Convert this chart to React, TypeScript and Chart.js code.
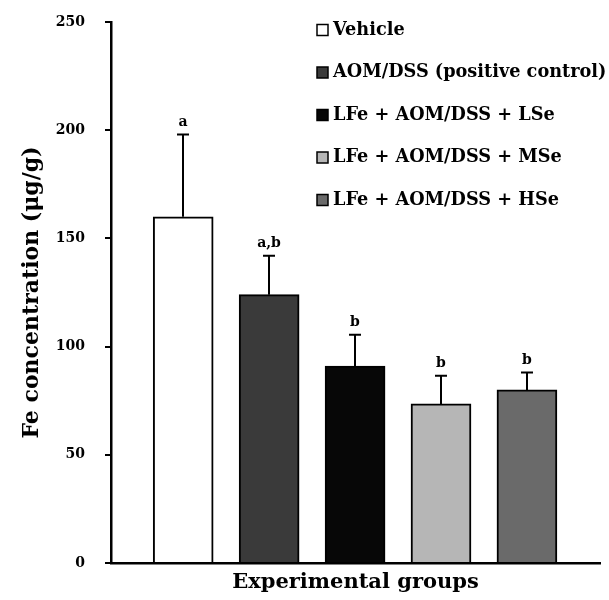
import React, { useEffect, useRef } from "react";
import { Chart, registerables } from "chart.js";

Chart.register(...registerables);

// ---- data ----
const groups = [
  "Vehicle",
  "AOM/DSS (positive control)",
  "LFe + AOM/DSS + LSe",
  "LFe + AOM/DSS + MSe",
  "LFe + AOM/DSS + HSe",
];
const xPositions = [1, 2, 3, 4, 5];
const means = [160, 124, 91, 73.5, 80];
const errors = [38, 18, 14.5, 13, 8];
const letters = ["a", "a,b", "b", "b", "b"];
const yTickValues = [0, 50, 100, 150, 200, 250];

// ---- styles ----
const fills = ["#ffffff", "#3a3a3a", "#070707", "#b6b6b6", "#6a6a6a"];
const FONT = "'DejaVu Serif', 'Liberation Serif', serif";

const annotatePlugin = {
  id: "annotate",
  afterDatasetsDraw(chart: any) {
    const { ctx, scales } = chart;
    const x = scales.x;
    const y = scales.y;
    ctx.save();
    ctx.strokeStyle = "#000";
    ctx.fillStyle = "#000";
    ctx.lineWidth = 2;
    means.forEach((m, i) => {
      const px = Math.round(x.getPixelForValue(xPositions[i]));
      const yb = y.getPixelForValue(m);
      const yt = y.getPixelForValue(m + errors[i]);
      ctx.beginPath();
      ctx.moveTo(px, yb);
      ctx.lineTo(px, yt);
      ctx.moveTo(px - 6, yt);
      ctx.lineTo(px + 6, yt);
      ctx.stroke();
      ctx.font = `bold 14px ${FONT}`;
      ctx.textAlign = "center";
      ctx.textBaseline = "bottom";
      ctx.fillText(letters[i], px, yt - 5);
    });

    // legend
    const lx = 317;
    const ly0 = 30;
    const step = 42.5;
    ctx.font = `bold 17.7px ${FONT}`;
    ctx.textAlign = "left";
    ctx.textBaseline = "middle";
    groups.forEach((g, i) => {
      const cy = ly0 + i * step;
      ctx.fillStyle = fills[i];
      ctx.fillRect(lx, cy - 5.5, 11, 11);
      ctx.lineWidth = 1.5;
      ctx.strokeStyle = "#000";
      ctx.strokeRect(lx, cy - 5.5, 11, 11);
      ctx.fillStyle = "#000";
      ctx.fillText(g, lx + 16, cy);
    });
    ctx.restore();
  },
};

export default function App() {
  const canvasRef = useRef<HTMLCanvasElement | null>(null);

  useEffect(() => {
    const canvas = canvasRef.current;
    if (!canvas) return;
    const chart = new Chart(canvas, {
      type: "bar",
      data: {
        datasets: [
          {
            label: "Fe concentration",
            data: means.map((m, i) => ({ x: xPositions[i], y: m })),
            backgroundColor: fills,
            borderColor: "#000",
            borderWidth: 2,
            borderSkipped: "bottom",
            barThickness: 60,
          },
        ],
      },
      options: {
        animation: false,
        responsive: false,
        layout: { padding: { top: 22, right: 9, left: 0, bottom: 0 } },
        plugins: {
          legend: { display: false },
          tooltip: { enabled: false },
        },
        scales: {
          x: {
            type: "linear",
            offset: false,
            min: 0.16,
            max: 5.85,
            ticks: { display: false },
            grid: { display: false, offset: false },
            border: { display: true, color: "#000", width: 2.5 },
            title: {
              display: true,
              text: "Experimental groups",
              color: "#000",
              font: { family: FONT, size: 21, weight: "bold" },
              padding: { top: 0, bottom: 5 },
            },
            afterFit: (scale: any) => {
              scale.height = 37;
            },
          },
          y: {
            min: 0,
            max: 250,
            afterBuildTicks: (scale: any) => {
              scale.ticks = yTickValues.map((v) => ({ value: v }));
            },
            ticks: {
              color: "#000",
              padding: 20,
              font: { family: FONT, size: 14, weight: "bold" },
            },
            grid: {
              display: true,
              drawOnChartArea: false,
              drawTicks: true,
              tickLength: 6,
              color: "#000",
              lineWidth: 2,
            },
            border: { display: true, color: "#000", width: 2.5 },
            title: {
              display: true,
              text: "Fe concentration (μg/g)",
              color: "#000",
              font: { family: FONT, size: 22, weight: "bold" },
              padding: { top: 19, bottom: 0 },
            },
            afterFit: (scale: any) => {
              scale.width = 111;
              scale.paddingTop = 0;
              scale.paddingBottom = 0;
            },
          },
        },
      },
      plugins: [annotatePlugin],
    });
    return () => chart.destroy();
  }, []);

  return (
    <div style={{ position: "absolute", left: 0, top: 0, width: 609, height: 600, background: "#fff" }}>
      <canvas ref={canvasRef} width={609} height={600} />
    </div>
  );
}
